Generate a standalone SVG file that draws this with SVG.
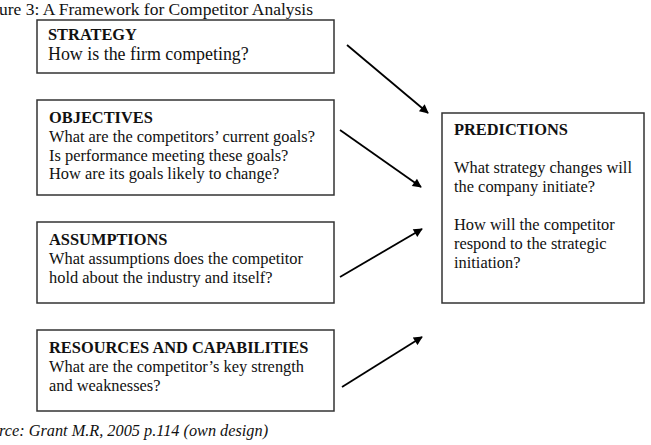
<svg xmlns="http://www.w3.org/2000/svg" width="651" height="445" viewBox="0 0 651 445">
<defs>
<style>
text{font-family:"Liberation Serif","Times New Roman",serif;font-size:16.4px;fill:#111}
.b{font-weight:bold}
.box{fill:#fff;stroke:#333;stroke-width:1.5}
.c{stroke:#000;stroke-width:1.8;fill:none;marker-end:url(#ah)}
</style>
<marker id="ah" viewBox="0 0 10 10" refX="9" refY="5" markerWidth="11" markerHeight="9" markerUnits="userSpaceOnUse" orient="auto">
<path d="M0,0 L10,5 L0,10 z" fill="#000"/>
</marker>
</defs>
<rect width="651" height="445" fill="#fff"/>
<text x="-1" y="15" style="font-size:17.5px">ure 3: A Framework for Competitor Analysis</text>
<g id="strategy">
<rect class="box" x="37" y="20" width="297" height="53"/>
<text class="b" x="48" y="40">STRATEGY</text>
<text x="48" y="60" style="font-size:17.9px">How is the firm competing?</text>
</g>
<g id="objectives">
<rect class="box" x="37" y="100" width="297" height="95"/>
<text class="b" x="49" y="123">OBJECTIVES</text>
<text x="49" y="142">What are the competitors’ current goals?</text>
<text x="49" y="161">Is performance meeting these goals?</text>
<text x="49" y="179">How are its goals likely to change?</text>
</g>
<g id="assumptions">
<rect class="box" x="37" y="222" width="297" height="81"/>
<text class="b" x="49" y="245">ASSUMPTIONS</text>
<text x="49" y="264">What assumptions does the competitor</text>
<text x="49" y="283">hold about the industry and itself?</text>
</g>
<g id="resources">
<rect class="box" x="37" y="330" width="297" height="81"/>
<text class="b" x="49" y="353">RESOURCES AND CAPABILITIES</text>
<text x="49" y="372">What are the competitor’s key strength</text>
<text x="49" y="391">and weaknesses?</text>
</g>
<g id="predictions">
<rect class="box" x="442" y="113" width="202" height="190"/>
<text class="b" x="454" y="135">PREDICTIONS</text>
<text x="454" y="173">What strategy changes will</text>
<text x="454" y="192">the company initiate?</text>
<text x="454" y="230">How will the competitor</text>
<text x="454" y="249">respond to the strategic</text>
<text x="454" y="268">initiation?</text>
</g>
<text x="-1" y="436" font-style="italic" style="font-size:16.3px">rce: Grant M.R, 2005 p.114 (own design)</text>
<g id="connectors">
<line class="c" x1="347" y1="45" x2="428" y2="113"/>
<line class="c" x1="340" y1="130" x2="421" y2="187"/>
<line class="c" x1="340" y1="277" x2="422" y2="229"/>
<line class="c" x1="342" y1="387" x2="422" y2="337"/>
</g>
</svg>
